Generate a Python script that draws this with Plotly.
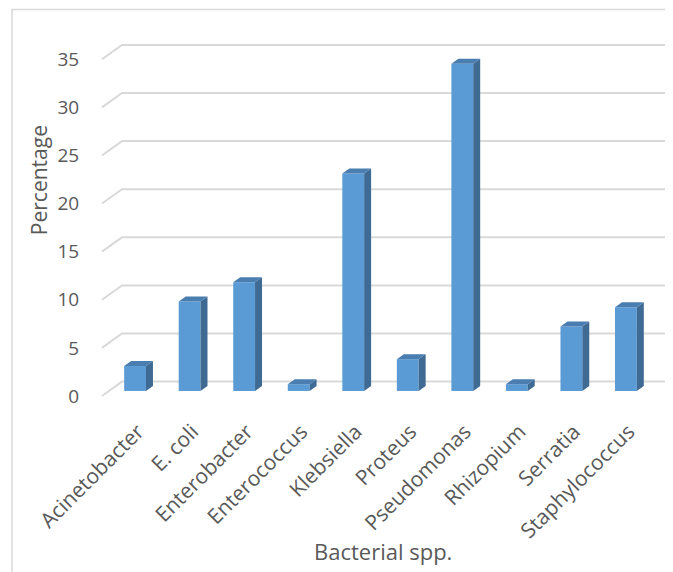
import plotly.graph_objects as go

categories = ["Acinetobacter", "E. coli", "Enterobacter", "Enterococcus", "Klebsiella",
              "Proteus", "Pseudomonas", "Rhizopium", "Serratia", "Staphylococcus"]
values = [2.6, 9.3, 11.3, 0.7, 22.6, 3.3, 34.0, 0.7, 6.7, 8.7]
y_ticks = [0, 5, 10, 15, 20, 25, 30, 35]

FONT = "Open Sans, Noto Sans, sans-serif"
TXT = "#595959"
GRID = "#D9D9D9"
FRONT = "#5B9BD5"
SIDE = "#3E6A93"
TOP = "#4A7DB0"

# geometry of the pseudo-3D look (in axis units)
W = 0.40          # bar width
DX = 0.128        # depth offset in x
DY = 0.52         # depth offset in y (bar)
BASE = 0.52       # bar front base above front floor
FLOOR_DY = 1.49   # floor depth (front label -> back wall)
X_BACK = -0.24    # back wall left edge
X_FRONT = -0.607  # front floor left edge
X_END = 9.76
LABEL_SHIFT = 0.05

xs = list(range(len(categories)))

fig = go.Figure()

# side faces
sx, sy = [], []
for i, v in zip(xs, values):
    r = i + W / 2
    sx += [r, r + DX, r + DX, r, r, None]
    sy += [BASE, BASE + DY, BASE + v + DY, BASE + v, BASE, None]
fig.add_trace(go.Scatter(x=sx, y=sy, mode="lines", fill="toself", fillcolor=SIDE,
                         line=dict(width=0, color=SIDE), hoverinfo="skip", showlegend=False))

# top faces
tx, ty = [], []
for i, v in zip(xs, values):
    l, r = i - W / 2, i + W / 2
    tx += [l, l + DX, r + DX, r, l, None]
    ty += [BASE + v, BASE + v + DY, BASE + v + DY, BASE + v, BASE + v, None]
fig.add_trace(go.Scatter(x=tx, y=ty, mode="lines", fill="toself", fillcolor=TOP,
                         line=dict(width=0, color=TOP), hoverinfo="skip", showlegend=False))

# front faces
fig.add_trace(go.Bar(x=xs, y=values, base=[BASE] * len(values), width=W,
                     marker=dict(color=FRONT, line=dict(width=0)),
                     customdata=categories,
                     hovertemplate="%{customdata}: %{y}<extra></extra>", showlegend=False))

# back wall gridlines with slanted floor segment (below traces)
shapes = []
for t in y_ticks:
    shapes.append(dict(type="path", xref="x", yref="y", layer="below",
                       path=f"M {X_FRONT},{t} L {X_BACK},{t + FLOOR_DY} L {X_END},{t + FLOOR_DY}",
                       line=dict(color=GRID, width=2)))
shapes.append(dict(type="rect", xref="paper", yref="paper",
                   x0=-0.1547, x1=1.03, y0=-0.52, y1=1.0847,
                   line=dict(color=GRID, width=1.5), fillcolor="rgba(0,0,0,0)", layer="below"))

fig.update_layout(
    width=665, height=564,
    margin=dict(l=92, r=4, t=32, b=172),
    paper_bgcolor="white", plot_bgcolor="white",
    font=dict(family=FONT, color=TXT, size=18),
    xaxis=dict(range=[-0.643, 9.79], tickvals=[i + LABEL_SHIFT for i in xs],
               ticktext=categories, tickangle=-45,
               showgrid=False, zeroline=False, showline=False,
               ticks="outside", ticklen=10, tickcolor="rgba(0,0,0,0)",
               tickfont=dict(size=21, color=TXT, family=FONT)),
    yaxis=dict(range=[-0.42, 37.0], tickvals=y_ticks, showgrid=False, zeroline=False,
               showline=False, ticks="outside", ticklen=16, tickcolor="rgba(0,0,0,0)",
               tickfont=dict(size=19, color=TXT, family=FONT)),
    shapes=shapes,
    annotations=[
        dict(text="Bacterial spp.", xref="paper", yref="paper", x=0.498, y=-0.419,
             xanchor="center", yanchor="middle", showarrow=False,
             font=dict(size=22, color=TXT, family=FONT)),
        dict(text="Percentage", xref="paper", yref="paper", x=-0.107, y=0.611,
             xanchor="center", yanchor="middle", showarrow=False, textangle=-90,
             font=dict(size=21, color=TXT, family=FONT)),
    ],
)

fig.write_html("out.html")
